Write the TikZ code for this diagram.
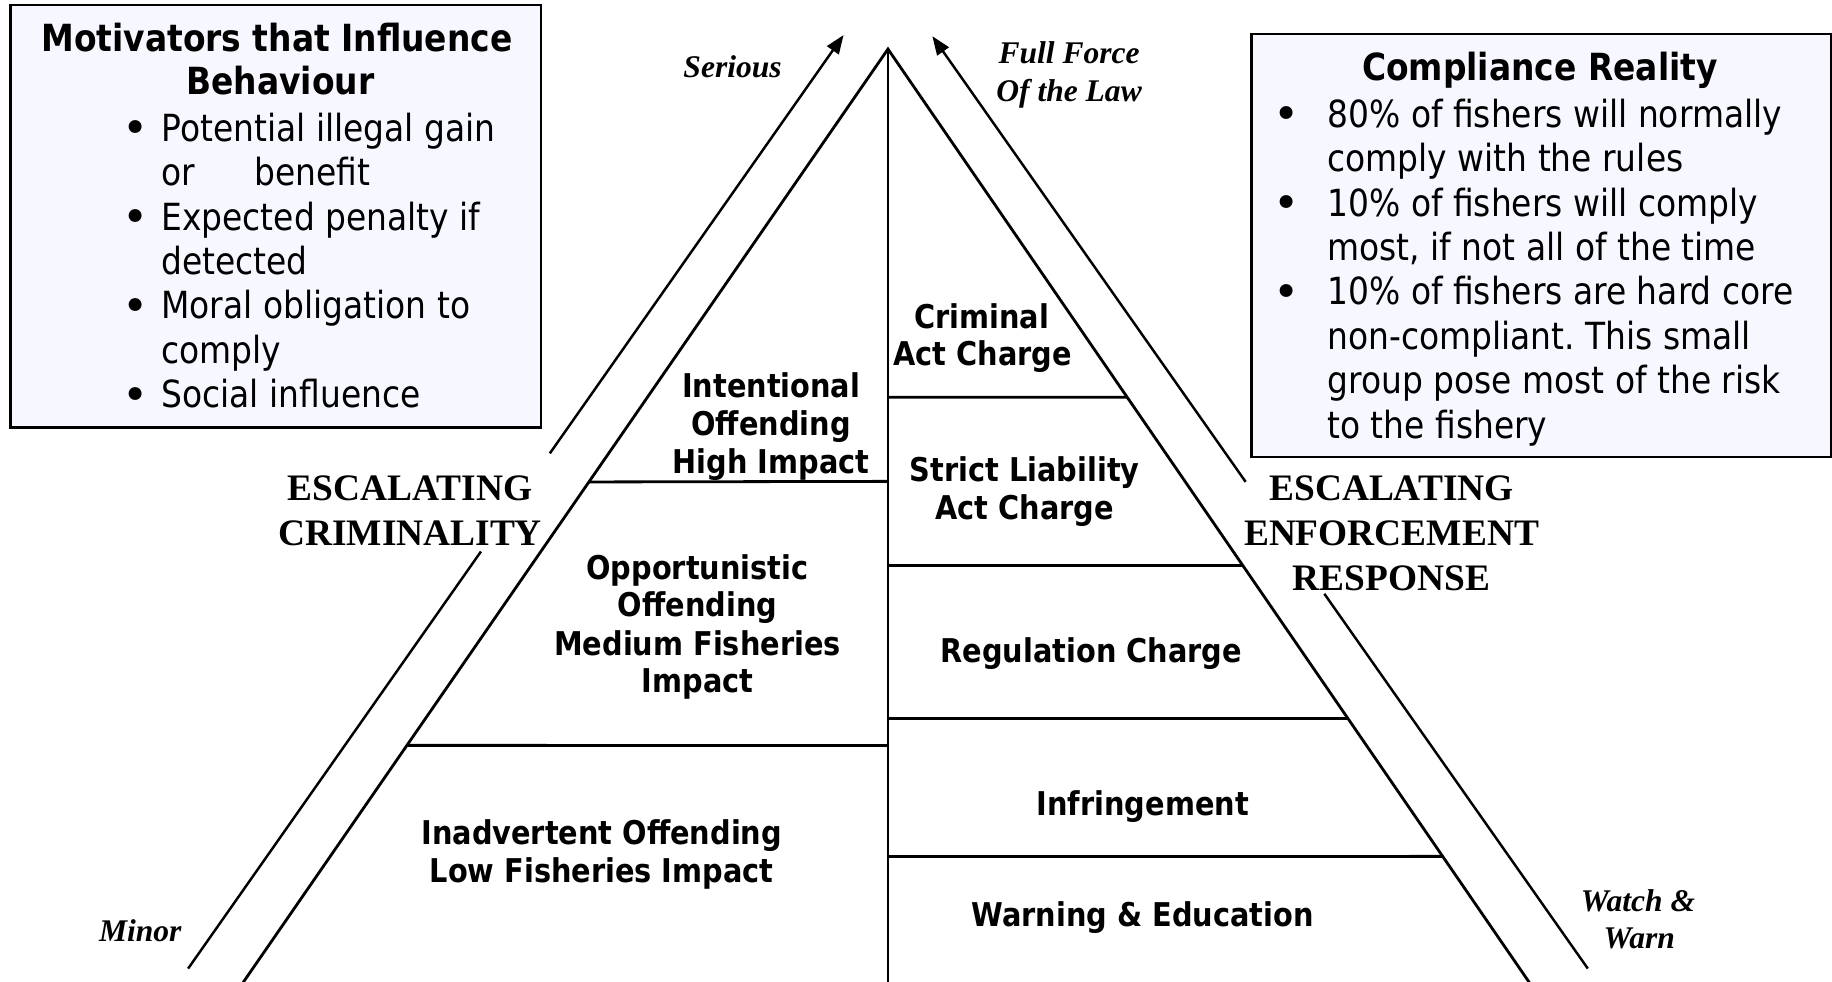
\documentclass[tikz,border=0pt]{standalone}
\usepackage{fontspec}
\usetikzlibrary{calc,arrows.meta}
\newfontfamily\tah[FakeStretch=0.88]{DejaVu Sans}
\newfontfamily\djv{DejaVu Sans}
\newfontfamily\tms{Liberation Serif}
\definecolor{boxfill}{RGB}{247,248,255}
\frenchspacing
\tikzset{
  body/.style={font={\tah\fontsize{32}{38}\selectfont}, inner sep=0pt, anchor=base west},
  bul/.style={font={\djv\fontsize{38}{38}\selectfont}, inner sep=0pt, anchor=base},
  head/.style={font={\tah\bfseries\fontsize{32}{38}\selectfont}, inner sep=0pt, anchor=base},
  lbl/.style={font={\tah\bfseries\fontsize{28}{32}\selectfont}, inner sep=0pt, anchor=base},
  ital/.style={font={\tms\bfseries\itshape\fontsize{27}{33}\selectfont}, inner sep=0pt, anchor=base},
  esc/.style={font={\tms\bfseries\fontsize{32}{38}\selectfont}, inner sep=0pt, anchor=base},
  pyr/.style={line width=2.4pt},
  outer/.style={line width=2.1pt},
  arr/.style={line width=2.1pt, -{Triangle[length=16pt,width=12pt]}},
  infobox/.style={draw, line width=2.2pt, fill=boxfill, anchor=north west, inner sep=0pt},
}
\begin{document}
\begin{tikzpicture}[x=1pt,y=-1pt]
\useasboundingbox (0,0) rectangle (1568,840);
% info boxes
\node[infobox, minimum width=454pt, minimum height=362pt] (mbox) at (8,3) {};
\node[infobox, minimum width=496pt, minimum height=362pt] (cbox) at (1070,28) {};
% left box text
\node[head] (mt1) at (237,44) {Motivators that Influence};
\node[head] (mt2) at (240,81) {Behaviour};
\node[bul] (mb1) at (116,123) {•};
\node[bul] (mb2) at (116,199) {•};
\node[bul] (mb3) at (116,275) {•};
\node[bul] (mb4) at (116,351) {•};
\node[body] (ml1) at (138,121) {Potential illegal gain};
\node[body] (ml2) at (138,159) {or\hspace{51pt}benefit};
\node[body] (ml3) at (138,197) {Expected penalty if};
\node[body] (ml4) at (138,235) {detected};
\node[body] (ml5) at (138,273) {Moral obligation to};
\node[body] (ml6) at (138,311) {comply};
\node[body] (ml7) at (138,349) {Social influence};
% right box text
\node[head] (ct) at (1318,69) {Compliance Reality};
\node[bul] (cb1) at (1101,111) {•};
\node[bul] (cb2) at (1101,187) {•};
\node[bul] (cb3) at (1101,263) {•};
\node[body] (cl1) at (1136,109) {80\% of fishers will normally};
\node[body] (cl2) at (1136,147) {comply with the rules};
\node[body] (cl3) at (1136,185) {10\% of fishers will comply};
\node[body] (cl4) at (1136,223) {most, if not all of the time};
\node[body] (cl5) at (1136,261) {10\% of fishers are hard core};
\node[body] (cl6) at (1136,299) {non-compliant. This small};
\node[body] (cl7) at (1136,337) {group pose most of the risk};
\node[body] (cl8) at (1136,375) {to the fishery};
% pyramid
\coordinate (A) at (760,42);
\coordinate (BL) at (208,841);
\coordinate (BR) at (1309,841);
\coordinate (BV) at (760,841);
\draw[pyr, line join=miter] (BL) -- (A) -- (BR);
\draw[pyr] (A) -- (BV);
\draw[pyr] ($(A)!0.4637!(BL)$) -- (760,412);
\draw[pyr] ($(A)!0.7459!(BL)$) -- (760,638);
\draw[pyr] (760,340) -- ($(A)!0.3730!(BR)$);
\draw[pyr] (760,484) -- ($(A)!0.5532!(BR)$);
\draw[pyr] (760,615) -- ($(A)!0.7171!(BR)$);
\draw[pyr] (760,733) -- ($(A)!0.8648!(BR)$);
% outer arrows
\coordinate (LT) at (722,30);
\coordinate (LB) at (161,829);
\coordinate (RT) at (798,31);
\coordinate (RB) at (1359,829);
\draw[outer] (LB) -- ($(LT)!0.5532!(LB)$);
\draw[arr] ($(LT)!0.4481!(LB)$) -- (LT);
\draw[outer] (RB) -- ($(RT)!0.598!(RB)$);
\draw[arr] ($(RT)!0.478!(RB)$) -- (RT);
% pyramid labels
\node[lbl] (p1a) at (840,281) {Criminal};
\node[lbl] (p1b) at (841,313) {Act Charge};
\node[lbl] (p2a) at (660,340) {Intentional};
\node[lbl] (p2b) at (660,373) {Offending};
\node[lbl] (p2c) at (660,405) {High Impact};
\node[lbl] (p3a) at (877,412) {Strict Liability};
\node[lbl] (p3b) at (877,445) {Act Charge};
\node[lbl] (p4a) at (597,496) {Opportunistic};
\node[lbl] (p4b) at (597,528) {Offending};
\node[lbl] (p4c) at (597,561) {Medium Fisheries};
\node[lbl] (p4d) at (597,593) {Impact};
\node[lbl] (p5) at (934,567) {Regulation Charge};
\node[lbl] (p6) at (978,698) {Infringement};
\node[lbl] (p7a) at (515,723) {Inadvertent Offending};
\node[lbl] (p7b) at (515,755) {Low Fisheries Impact};
\node[lbl] (p8) at (978,793) {Warning \& Education};
% italic labels
\node[ital] (ser) at (627,66) {Serious};
\node[ital] (ff1) at (915,54) {Full Force};
\node[ital] (ff2) at (915,87) {Of the Law};
\node[ital] (min) at (120,806) {Minor};
\node[ital] (ww1) at (1402,780) {Watch \&};
\node[ital] (ww2) at (1403,812) {Warn};
% escalating headings
\node[esc] (ec1) at (351,428) {ESCALATING};
\node[esc] (ec2) at (351,466.5) {CRIMINALITY};
\node[esc] (ee1) at (1191,428) {ESCALATING};
\node[esc] (ee2) at (1191,466.5) {ENFORCEMENT};
\node[esc] (ee3) at (1191,505) {RESPONSE};
\end{tikzpicture}
\end{document}
